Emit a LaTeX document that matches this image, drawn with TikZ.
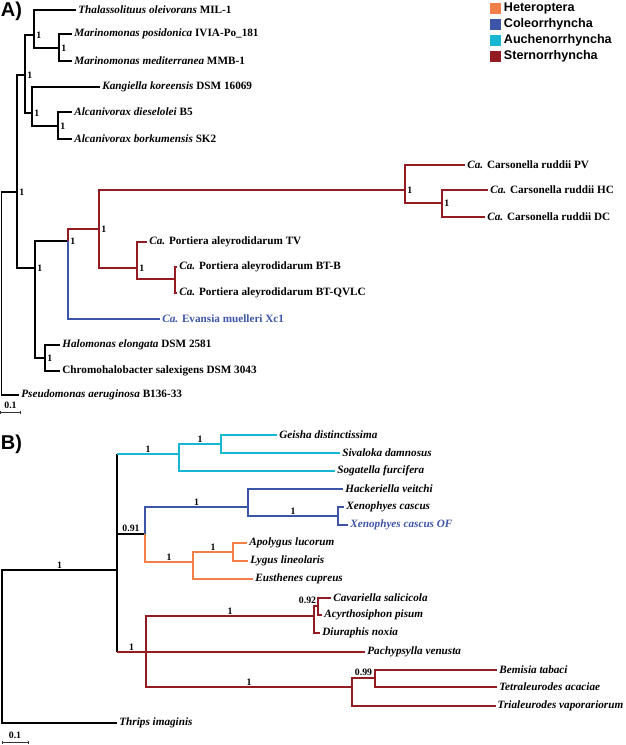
\documentclass[tikz,border=0pt]{standalone}
\usepackage{fontspec}
\setmainfont{Liberation Serif}
\newfontfamily\legendfont{Liberation Sans}
\definecolor{heter}{HTML}{F27F48}
\definecolor{coleo}{HTML}{3D55A6}
\definecolor{auche}{HTML}{17B6D2}
\definecolor{stern}{HTML}{921C21}
\begin{document}
\begin{tikzpicture}[x=1pt, y=-1pt, line width=1.8pt,
    leaf/.style={anchor=west, inner sep=1.5pt, font=\fontsize{11.2}{13}\selectfont\bfseries},
    bleaf/.style={leaf, font=\fontsize{11.2}{13}\selectfont\bfseries\itshape},
    supp/.style={font=\fontsize{9.8}{11}\selectfont\bfseries, inner sep=1pt, text=black},
    sright/.style={supp, anchor=west, xshift=0.5pt},
    sabove/.style={supp, above, pos=.75},
    legend/.style={anchor=west, inner sep=1pt, font=\legendfont\fontsize{12.6}{14}\selectfont\bfseries},
    panel/.style={anchor=north west, inner sep=0pt, font=\legendfont\fontsize{20}{22}\selectfont\bfseries},
    scalebar/.style={line width=0.5pt, black!80}]
\useasboundingbox (0,0) rectangle (625,745);
\node[panel] (labA) at (0,1) {A)};
\node[panel] (labB) at (0,434) {B)};
\foreach \c/\t [count=\i] in {heter/Heteroptera, coleo/Coleorrhyncha, auche/Auchenorrhyncha, stern/Sternorrhyncha} {
  \fill[\c] (490,{16*\i-13.5}) rectangle +(11,11);
  \node[legend] (lg\i) at (502,{16*\i-8}) {\t};
}

\node[leaf] (thal) at (76,10) {\textit{Thalassolituus oleivorans} MIL-1};
\node[leaf] (mpos) at (72,34) {\textit{Marinomonas posidonica} IVIA-Po\_181};
\node[leaf] (mmed) at (72,61) {\textit{Marinomonas mediterranea} MMB-1};
\node[leaf] (kang) at (100,87) {\textit{Kangiella koreensis} DSM 16069};
\node[leaf] (adie) at (72,112) {\textit{Alcanivorax dieselolei} B5};
\node[leaf] (abor) at (72,139) {\textit{Alcanivorax borkumensis} SK2};
\node[leaf] (crpv) at (465,165) {\textit{Ca.} Carsonella ruddii PV};
\node[leaf] (crhc) at (488,190) {\textit{Ca.} Carsonella ruddii HC};
\node[leaf] (crdc) at (485,217) {\textit{Ca.} Carsonella ruddii DC};
\node[leaf] (patv) at (147,242) {\textit{Ca.} Portiera aleyrodidarum TV};
\node[leaf] (pabb) at (177,267) {\textit{Ca.} Portiera aleyrodidarum BT-B};
\node[leaf] (pabq) at (177,293) {\textit{Ca.} Portiera aleyrodidarum BT-QVLC};
\node[leaf, text=coleo] (evan) at (160,319) {\textit{Ca.} Evansia muelleri Xc1};
\node[leaf] (halo) at (60,345) {\textit{Halomonas elongata} DSM 2581};
\node[leaf] (chro) at (60,371) {Chromohalobacter salexigens DSM 3043};
\node[leaf] (pseu) at (19,395) {\textit{Pseudomonas aeruginosa} B136-33};

\coordinate (rA) at (1.5,293);
\coordinate (a6) at (17,192);
\coordinate (a5) at (25,75);
\coordinate (a2) at (34,35);
\coordinate (a1) at (59,48);
\coordinate (a4) at (32,113);
\coordinate (a3) at (58,126);
\coordinate (a7) at (35,268);
\coordinate (a8) at (68,241);
\coordinate (a9) at (99,229);
\coordinate (ca1) at (405,190);
\coordinate (ca2) at (442,203);
\coordinate (a10) at (137,268);
\coordinate (a11) at (175,279);
\coordinate (a12) at (45,358);

\draw (rA) |- (a6) (rA) |- (pseu.west);
\draw (a6) |- (a5) (a6) |- (a7);
\draw (a5) |- (a2) (a5) |- (a4);
\draw (a2) |- (thal.west) (a2) |- (a1);
\draw (a1) |- (mpos.west) (a1) |- (mmed.west);
\draw (a4) |- (kang.west) (a4) |- (a3);
\draw (a3) |- (adie.west) (a3) |- (abor.west);
\draw (a7) |- (a8) (a7) |- (a12);
\draw (a12) |- (halo.west) (a12) |- (chro.west);
\draw[coleo] (a8) |- (evan.west);
\draw[stern] (a8) |- (a9) (a9) |- (ca1) (a9) |- (a10);
\draw[stern] (ca1) |- (crpv.west) (ca1) |- (ca2) (ca2) |- (crhc.west) (ca2) |- (crdc.west);
\draw[stern] (a10) |- (patv.west) (a10) |- (a11) (a11) |- (pabb.west) (a11) |- (pabq.west);
\foreach \n in {a1,a2,a3,a4,a5,a6,a7,a8,a9,a10,a12,ca1,ca2}
  \node[sright] at (\n) {1};

\draw[scalebar] (0.5,410.5) -- (0.5,413.5) (0.5,412) -- (20,412) (20,410.5) -- (20,413.5);
\node[supp, above] (sA) at (10.5,411) {0.1};

\node[bleaf] (geis) at (277,435) {Geisha distinctissima};
\node[bleaf] (sival) at (340,453) {Sivaloka damnosus};
\node[bleaf] (sogat) at (335,471) {Sogatella furcifera};
\node[bleaf] (hack) at (343,489) {Hackeriella veitchi};
\node[bleaf] (xcas) at (344,507) {Xenophyes cascus};
\node[bleaf, text=coleo] (xof) at (348,525) {Xenophyes cascus OF};
\node[bleaf] (apol) at (247,543) {Apolygus lucorum};
\node[bleaf] (lygu) at (248,561) {Lygus lineolaris};
\node[bleaf] (euth) at (253,579) {Eusthenes cupreus};
\node[bleaf] (cava) at (331,598) {Cavariella salicicola};
\node[bleaf] (acyr) at (322,615) {Acyrthosiphon pisum};
\node[bleaf] (diur) at (320,633) {Diuraphis noxia};
\node[bleaf] (pachy) at (365,652) {Pachypsylla venusta};
\node[bleaf] (bemi) at (497,670) {Bemisia tabaci};
\node[bleaf] (tetra) at (497,687) {Tetraleurodes acaciae};
\node[bleaf, inner sep=0.8pt] (trial) at (496,706) {Trialeurodes vaporariorum};
\node[bleaf] (thri) at (117,723) {Thrips imaginis};

\coordinate (rB) at (2,646);
\coordinate (bX) at (117,570);
\coordinate (bC) at (179,454);
\coordinate (bCb) at (221,444);
\coordinate (b91) at (145,534);
\coordinate (bBa) at (248,507);
\coordinate (bBb) at (338,516);
\coordinate (bOa) at (193,562);
\coordinate (bOb) at (233,552);
\coordinate (bRa) at (146,652);
\coordinate (bRb) at (314,616);
\coordinate (bRc) at (318,606);
\coordinate (bRd) at (352,687);
\coordinate (bRe) at (375,678);

\draw (rB) |- node[sabove] {1} (bX) (rB) |- (thri.west);
\draw (bX) -- (bX |- bC) (bX) -- (bX |- bRa) (bX) |- node[sabove] {0.91} (b91);
\draw[auche] (bX |- bC) -- node[supp, above] {1} (bC) (bC) |- node[sabove] {1} (bCb) (bC) |- (sogat.west);
\draw[auche] (bCb) |- (geis.west) (bCb) |- (sival.west);
\draw[coleo] (b91) |- node[sabove] {1} (bBa) (bBa) |- (hack.west) (bBa) |- node[sabove] {1} (bBb);
\draw[coleo] (bBb) |- (xcas.west) (bBb) |- (xof.west);
\draw[heter] (b91) |- node[sabove] {1} (bOa) (bOa) |- node[sabove] {1} (bOb) (bOa) |- (euth.west);
\draw[heter] (bOb) |- (apol.west) (bOb) |- (lygu.west);
\draw[stern] (bX |- bRa) -- node[supp, above] {1} (bRa) (bRa) -- (pachy.west);
\draw[stern] (bRa) |- node[sabove] {1} (bRb) (bRa) |- node[sabove] {1} (bRd);
\draw[stern] (bRb) |- (bRc) (bRb) |- (diur.west) (bRc) |- (cava.west) (bRc) |- (acyr.west);
\draw[stern] (bRd) |- node[sabove] {0.99} (bRe) (bRd) |- (trial.west) (bRe) |- (bemi.west) (bRe) |- (tetra.west);
\node[supp, anchor=south east] (s92) at (bRc) {0.92};

\draw[scalebar] (2,740.5) -- (2,743.5) (2,742) -- (28,742) (28,740.5) -- (28,743.5);
\node[supp, above] (sB) at (15,741) {0.1};
\end{tikzpicture}
\end{document}
